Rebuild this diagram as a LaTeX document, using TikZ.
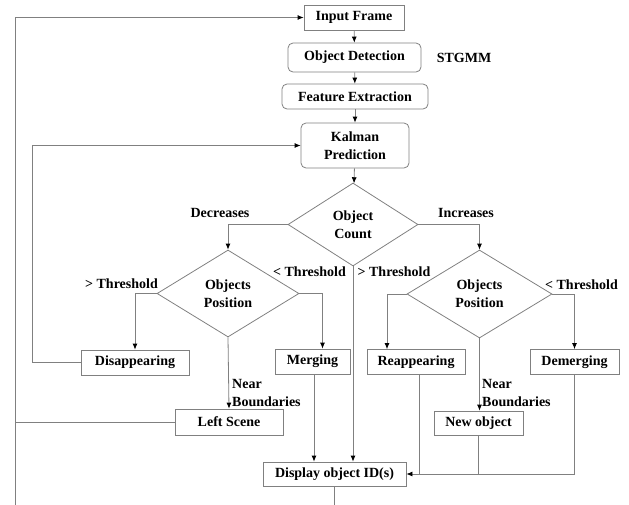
\documentclass[tikz,border=0pt]{standalone}
\usepackage{fontspec}
\setmainfont{Liberation Serif}
\usetikzlibrary{shapes.geometric,arrows.meta}

\tikzset{
  box/.style={draw=black!50, line width=0.8pt, minimum height=25pt, inner sep=2pt,
    font=\fontsize{14}{18}\selectfont\bfseries, align=center},
  rbox/.style={box, rounded corners=5pt},
  dec/.style={diamond, draw=black!50, line width=0.8pt, inner sep=0pt,
    font=\fontsize{14}{18}\selectfont\bfseries, align=center},
  lbl/.style={font=\fontsize{14}{18}\selectfont\bfseries, align=left, inner sep=0pt},
  link/.style={draw=black!50, line width=0.8pt},
  arr/.style={link, -{Latex[black,length=6pt,width=5pt]}}
}

\begin{document}
\begin{tikzpicture}[x=1pt,y=-1pt]
\useasboundingbox (0,0) rectangle (629,504);

% main chain
\node[box, minimum width=100pt] (input) at (354,17.5) {Input Frame};
\node[rbox, minimum width=133pt, minimum height=29pt] (detect) at (354.5,57.5) {Object Detection};
\node[lbl] (stgmm) at (464,58) {STGMM};
\node[rbox, minimum width=146pt] (feat) at (355,96.5) {Feature Extraction};
\node[rbox, minimum width=108pt, minimum height=45pt] (kalman) at (355,145.5) {Kalman\\Prediction};
\node[dec, minimum width=130pt, minimum height=83pt] (count) at (353,224.5) {Object\\Count};

% decisions on position
\node[dec, minimum width=142pt, minimum height=87pt] (lpos) at (228,293.5) {Objects\\Position};
\node[dec, minimum width=145pt, minimum height=88pt] (rpos) at (479.5,294) {Objects\\Position};

% outcomes
\node[box, minimum width=108pt] (disap) at (135,362.5) {Disappearing};
\node[box, minimum width=75pt] (merge) at (312.5,361.5) {Merging};
\node[box, minimum width=98pt] (reapp) at (416,362) {Reappearing};
\node[box, minimum width=89pt] (demerge) at (574.5,362) {Demerging};
\node[box, minimum width=108pt, minimum height=26pt] (lscene) at (229,422) {Left Scene};
\node[box, minimum width=89pt, minimum height=24pt] (newobj) at (478.5,423) {New object};
\node[box, minimum width=143pt, minimum height=24pt] (disp) at (334.5,474) {Display object ID(s)};

\coordinate (outer) at (15.7,0);

% labels
\node[lbl] at (220,213) {Decreases};
\node[lbl] at (466,213) {Increases};
\node[lbl] at (121.5,284) {> Threshold};
\node[lbl] at (309.5,272) {< Threshold};
\node[lbl] at (394,272) {> Threshold};
\node[lbl] at (581.5,285) {< Threshold};
\node[lbl, anchor=west] at (232,392.5) {Near\\Boundaries};
\node[lbl, anchor=west] at (482,392.5) {Near\\Boundaries};

% connectors
\draw[arr] (input) -- (detect);
\draw[arr] (detect) -- (feat);
\draw[arr] (feat) -- (kalman);
\draw[arr] (kalman) -- (count);
\draw[arr] (count.west) -| (lpos.north);
\draw[arr] (count.east) -| (rpos.north);
\draw[arr] (lpos.west) -| (disap.north);
\draw[arr] (lpos.east) -| ([xshift=10pt]merge.north);
\draw[arr] (lpos.south) -- (lscene.north);
\draw[arr] (rpos.west) -| ([xshift=-29pt]reapp.north);
\draw[arr] (rpos.east) -| (demerge.north);
\draw[arr] (rpos.south) -- (rpos.south |- newobj.north);
\draw[arr] ([xshift=1.5pt]merge.south) -- ([xshift=1.5pt]merge.south |- disp.north);
\draw[arr] (count.south) -- (count.south |- disp.north);
\draw[arr] (demerge.south) |- (disp.east);
\draw[link] ([xshift=3pt]reapp.south) -- ([xshift=3pt]reapp.south |- disp.east);
\draw[link] (newobj.south) -- (newobj.south |- disp.east);

% feedback loops
\draw[arr] (disap.west) -- ++(-48,0) |- (kalman.west);
\draw[link] (lscene.west) -- (lscene.west -| outer);
\draw[arr] (disp.south) -- ++(0,30) -| (outer |- input.west) -- (input.west);
\end{tikzpicture}
\end{document}
